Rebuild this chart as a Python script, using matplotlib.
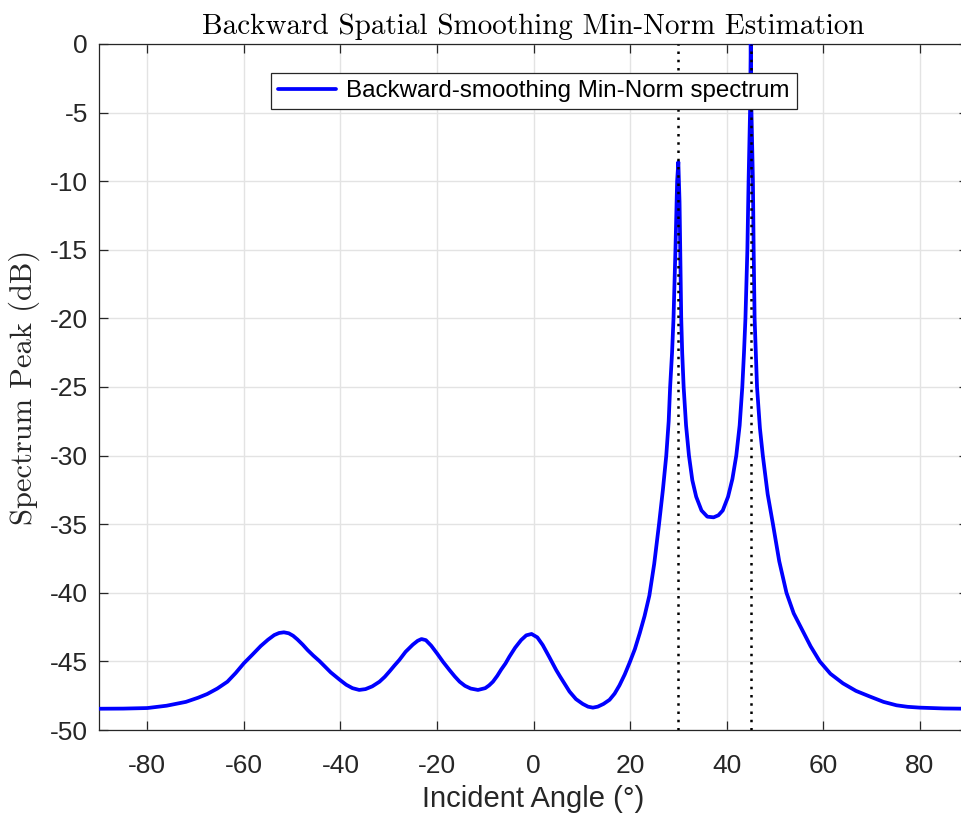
import matplotlib
matplotlib.use('Agg')
import matplotlib.pyplot as plt

#-------------------------------------------------------------------------
# Data
#-------------------------------------------------------------------------

angle_deg = [
    -90.0, -85.0, -80.0, -76.0, -72.0, -69.5, -67.6, -65.5, -63.4, -61.7,
    -60.0, -58.2, -56.5, -55.0, -53.7, -52.7, -51.7, -50.7, -49.8, -48.9,
    -47.8, -46.8, -45.6, -44.35, -43.2, -42.0, -40.06, -38.8, -37.5, -36.1,
    -34.8, -33.4, -31.9, -30.8, -29.8, -28.8, -27.8, -26.5, -25.0, -24.0,
    -23.2, -22.3, -21.2, -20.0, -18.7, -17.4, -16.3, -15.3, -14.2, -13.0,
    -11.5, -10.0, -9.2, -8.4, -7.5, -6.7, -5.8, -5.0, -3.8, -2.55,
    -1.5, -0.4, 0.8, 1.9, 3.3, 4.7, 5.5, 6.3, 7.46, 8.8,
    10.2, 11.3, 12.3, 13.3, 14.5, 15.75, 16.8, 17.8, 18.9, 19.9,
    21.0, 22.0, 23.0, 24.0, 25.0, 26.0, 26.8, 27.5, 28.0, 28.3,
    28.7, 29.0, 29.4, 29.75, 30.0, 30.25, 30.4, 30.6, 30.8, 31.1,
    31.6, 32.2, 32.9, 33.7, 34.8, 36.0, 37.3, 38.3, 39.2, 40.3,
    41.2, 42.0, 42.7, 43.25, 43.6, 43.9, 44.3, 44.55, 44.85, 45.0,
    45.15, 45.45, 45.6, 45.8, 46.3, 46.9, 47.5, 48.5, 49.6, 50.9,
    52.4, 53.9, 55.5, 57.4, 59.3, 61.5, 64.1, 66.8, 69.6, 72.5,
    75.2, 77.5, 80.0, 85.0, 90.0,
]

spectrum_db = [
    -48.45, -48.44, -48.40, -48.23, -47.95, -47.65, -47.38, -46.98, -46.48, -45.85,
    -45.14, -44.50, -43.88, -43.42, -43.08, -42.93, -42.88, -42.95, -43.13, -43.40,
    -43.78, -44.17, -44.58, -44.97, -45.38, -45.80, -46.36, -46.70, -46.95, -47.08,
    -47.02, -46.82, -46.48, -46.12, -45.72, -45.30, -44.90, -44.30, -43.78, -43.50,
    -43.37, -43.45, -43.85, -44.41, -45.05, -45.63, -46.10, -46.48, -46.78, -46.98,
    -47.08, -46.95, -46.75, -46.48, -46.05, -45.60, -45.15, -44.66, -44.00, -43.44,
    -43.10, -43.00, -43.25, -43.80, -44.70, -45.63, -46.10, -46.55, -47.20, -47.75,
    -48.10, -48.30, -48.37, -48.30, -48.10, -47.80, -47.35, -46.75, -45.95, -45.10,
    -44.10, -42.95, -41.70, -40.20, -37.90, -35.00, -32.50, -30.00, -27.50, -25.00,
    -22.50, -20.00, -15.00, -10.00, -8.60, -11.50, -15.00, -20.00, -22.50, -25.00,
    -27.80, -30.00, -31.80, -33.00, -34.00, -34.45, -34.50, -34.35, -34.00, -33.00,
    -31.70, -30.00, -27.80, -25.00, -22.50, -20.00, -15.00, -10.00, -5.00, 0.00,
    -5.00, -10.00, -15.00, -20.00, -25.00, -28.00, -30.00, -32.80, -35.00, -37.70,
    -40.00, -41.50, -42.60, -43.90, -45.00, -45.90, -46.60, -47.15, -47.55, -47.95,
    -48.20, -48.31, -48.37, -48.43, -48.45,
]

source_angles = [30, 45]

x_ticks = [-80, -60, -40, -20, 0, 20, 40, 60, 80]
y_ticks = [0, -5, -10, -15, -20, -25, -30, -35, -40, -45, -50]

#-------------------------------------------------------------------------
# Configure matplotlib
#-------------------------------------------------------------------------

plt.rcParams['font.family']        = ['Liberation Sans', 'DejaVu Sans']
plt.rcParams['axes.unicode_minus'] = False
plt.rcParams['figure.dpi']         = 100

axis_color = '#262626'

#-------------------------------------------------------------------------
# Create plot
#-------------------------------------------------------------------------

fig = plt.figure( figsize=(9.62, 8.17), dpi=100 )
ax = fig.add_axes( [ 99/962, 1 - 730/817, 869/962, 686/817 ] )

ax.plot( angle_deg, spectrum_db, color='#0000ff', linewidth=2.7,
         solid_joinstyle='round', solid_capstyle='round',
         label='Backward-smoothing Min-Norm spectrum', zorder=3 )

# true source directions
for a in source_angles:
    ax.plot( [a, a], [-50, 0], color='black', linewidth=1.8,
             linestyle=(0, (1, 2.3)), zorder=4 )

ax.set_xlim( -90, 90 )
ax.set_ylim( -50, 0 )
ax.set_xticks( x_ticks )
ax.set_yticks( y_ticks )
ax.set_xticklabels( [str(t) for t in x_ticks] )
ax.set_yticklabels( [str(t) for t in y_ticks] )

ax.grid( True, color='#e3e3e3', linewidth=1.0, zorder=0 )
ax.set_axisbelow( True )

ax.tick_params( direction='in', length=6.5, width=0.9, colors=axis_color,
                labelsize=19, top=True, right=True )
ax.tick_params( axis='x', pad=17 )
ax.tick_params( axis='y', pad=8 )
for s in ax.spines.values():
    s.set_color( axis_color )
    s.set_linewidth( 0.9 )

ax.set_xlabel( 'Incident Angle (°)', fontsize=21, color=axis_color, labelpad=5 )
ax.set_ylabel( 'Spectrum Peak (dB)', fontsize=22, family='cmr10',
               color=axis_color, labelpad=7 )
ax.set_title( 'Backward Spatial Smoothing Min-Norm Estimation', fontsize=21,
              family='cmr10', color='black', pad=7 )

leg = ax.legend( loc='upper left', bbox_to_anchor=(0.198, 0.958),
                 borderaxespad=0, fontsize=17.4, fancybox=False, framealpha=1,
                 edgecolor=axis_color, handlelength=2.4, borderpad=0.3,
                 handletextpad=0.4 )
leg.get_frame().set_linewidth( 0.9 )
leg.set_zorder( 5 )

#-------------------------------------------------------------------------
# Generate PNG
#-------------------------------------------------------------------------

plt.savefig( 'out.png', dpi=100 )
